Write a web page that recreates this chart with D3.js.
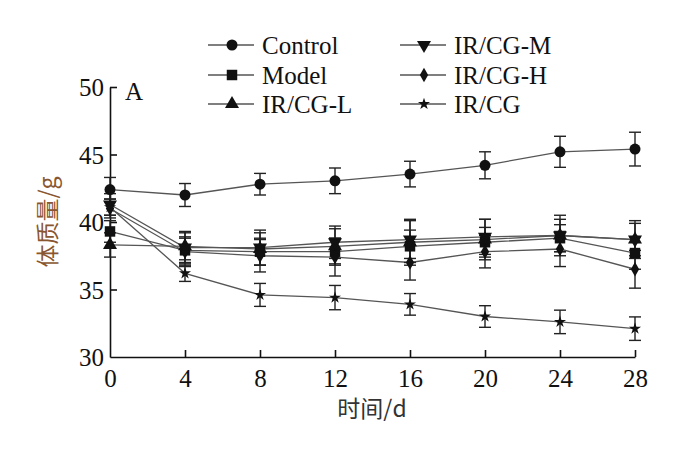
<!DOCTYPE html>
<html><head><meta charset="utf-8">
<script src="https://cdn.jsdelivr.net/npm/d3@7"></script>
<style>body{margin:0;background:#fff}svg{display:block}
.serif{font-family:"Liberation Serif","Times New Roman",Times,serif}
.cjk{font-family:"Noto Sans CJK SC","Noto Sans",sans-serif}</style>
</head><body>
<svg id="c" width="700" height="458"></svg>
<script>
const days = [0, 4, 8, 12, 16, 20, 24, 28];
const xTicks = [0, 4, 8, 12, 16, 20, 24, 28];
const yTicks = [30, 35, 40, 45, 50];
const seriesNames = ["Control", "Model", "IR/CG-L", "IR/CG-M", "IR/CG-H", "IR/CG"];
const controlMean = [42.4, 42.0, 42.8, 43.05, 43.55, 44.2, 45.2, 45.4];
const controlErr  = [0.9, 0.85, 0.8, 0.95, 0.95, 1.0, 1.15, 1.25];
const modelMean   = [39.3, 37.9, 37.8, 37.8, 38.2, 38.5, 38.8, 37.7];
const modelErr    = [0.8, 0.9, 1.0, 1.0, 1.2, 1.1, 1.0, 1.2];
const lowMean     = [38.3, 38.2, 38.0, 38.2, 38.5, 38.7, 39.0, 38.7];
const lowErr      = [0.9, 1.0, 1.2, 1.3, 1.7, 1.5, 1.5, 1.4];
const midMean     = [41.3, 38.1, 38.1, 38.5, 38.7, 38.9, 39.0, 38.7];
const midErr      = [0.8, 1.2, 1.3, 1.2, 1.4, 1.3, 1.2, 1.2];
const highMean    = [41.0, 37.8, 37.5, 37.4, 37.0, 37.8, 38.0, 36.5];
const highErr     = [0.7, 1.1, 1.2, 1.4, 1.3, 1.2, 1.3, 1.4];
const cgMean      = [41.1, 36.2, 34.6, 34.4, 33.9, 33.0, 32.6, 32.1];
const cgErr       = [0.6, 0.6, 0.85, 0.9, 0.8, 0.8, 0.87, 0.87];

const symbols = [d3.symbolCircle, d3.symbolSquare, d3.symbolTriangle, "down", d3.symbolDiamond, d3.symbolStar];
const symSizes = [95, 110, 85, 85, 60, 45];
const means = [controlMean, modelMean, lowMean, midMean, highMean, cgMean];
const errs = [controlErr, modelErr, lowErr, midErr, highErr, cgErr];

const svg = d3.select("#c");
const x = d3.scaleLinear().domain([0, 28]).range([110, 635]);
const y = d3.scaleLinear().domain([30, 50]).range([357, 87]);

function symPath(i) {
  if (symbols[i] === "down") return d3.symbol(d3.symbolTriangle, symSizes[i])();
  return d3.symbol(symbols[i], symSizes[i])();
}
function symRot(i) { return symbols[i] === "down" ? " rotate(180)" : ""; }

// axes
const xAxis = d3.axisBottom(x).tickValues(xTicks).tickSize(-7).tickPadding(10).tickSizeOuter(0);
const gx = svg.append("g").attr("transform", "translate(0,357)").call(xAxis);
const yAxis = d3.axisLeft(y).tickValues(yTicks).tickSize(-7).tickPadding(6).tickSizeOuter(0);
const gy = svg.append("g").attr("transform", "translate(110,0)").call(yAxis);
[gx, gy].forEach(g => {
  g.attr("font-family", null).attr("font-size", null);
  g.select(".domain").attr("stroke", "#111").attr("stroke-width", 1.6);
  g.selectAll(".tick line").attr("stroke", "#111").attr("stroke-width", 1.6);
  g.selectAll(".tick text").attr("class", "serif").style("font-size", "25px").attr("fill", "#111");
});
gx.selectAll(".tick line").filter(d => d === 0).remove();
gy.selectAll(".tick line").filter(d => d === 30).remove();
gx.selectAll(".tick text").attr("dy", "0.8em");
gy.selectAll(".tick text").attr("dy", "0.34em");

// axis titles
svg.append("text").attr("x", 372).attr("y", 417).attr("text-anchor", "middle")
  .attr("class", "cjk").style("font-size", "23px").attr("fill", "#333")
  .text("时间/d");
svg.append("text").attr("transform", "translate(56,222) rotate(-90)").attr("text-anchor", "middle")
  .attr("class", "cjk").style("font-size", "23px").attr("fill", "#8a5630")
  .text("体质量/g");
svg.append("text").attr("x", 125).attr("y", 100).attr("class", "serif").style("font-size", "25px")
  .attr("fill", "#111").text("A");

const line = d3.line().x((d, i) => x(days[i])).y(d => y(d));
// lines
means.forEach((m, s) => {
  svg.append("path").datum(m).attr("d", line).attr("fill", "none")
    .attr("stroke", "#555").attr("stroke-width", 1.3);
});
// error bars
means.forEach((m, s) => {
  const g = svg.append("g").attr("stroke", "#222").attr("stroke-width", 1.4);
  m.forEach((v, i) => {
    const cx = x(days[i]), e = errs[s][i];
    g.append("line").attr("x1", cx).attr("x2", cx).attr("y1", y(v - e)).attr("y2", y(v + e));
    g.append("line").attr("x1", cx - 6).attr("x2", cx + 6).attr("y1", y(v + e)).attr("y2", y(v + e));
    g.append("line").attr("x1", cx - 6).attr("x2", cx + 6).attr("y1", y(v - e)).attr("y2", y(v - e));
  });
});
// markers
means.forEach((m, s) => {
  svg.append("g").selectAll("path").data(m).join("path")
    .attr("d", symPath(s))
    .attr("transform", (d, i) => `translate(${x(days[i])},${y(d)})${symRot(s)}`)
    .attr("fill", "#111");
});

// legend
const legendPos = [[208, 45], [208, 75], [208, 104], [400, 45], [400, 75], [400, 104]];
seriesNames.forEach((name, s) => {
  const [lx, ly] = legendPos[s];
  const g = svg.append("g");
  g.append("line").attr("x1", lx).attr("x2", lx + 46).attr("y1", ly).attr("y2", ly)
    .attr("stroke", "#555").attr("stroke-width", 1.3);
  g.append("path").attr("d", symPath(s)).attr("transform", `translate(${lx + 24},${ly})${symRot(s)}`).attr("fill", "#111");
  g.append("text").attr("x", lx + 54).attr("y", ly).attr("dy", "0.35em")
    .attr("class", "serif").style("font-size", "25px").attr("fill", "#111").text(name);
});
</script>
</body></html>
